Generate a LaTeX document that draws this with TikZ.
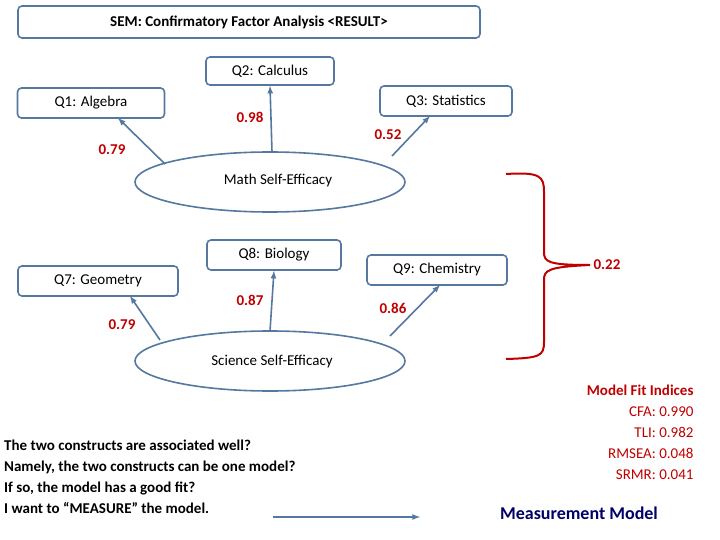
\documentclass[tikz,border=0pt]{standalone}
\usepackage{fontspec}
\setmainfont{Carlito}
\usetikzlibrary{shapes.geometric}
\definecolor{boxblue}{RGB}{84,120,160}
\definecolor{fitred}{RGB}{192,0,0}
\begin{document}
\begin{tikzpicture}[x=1pt,y=-1pt, font=\fontsize{15}{17}\selectfont,
	q/.style={draw=boxblue, line width=1.6pt, rounded corners=4pt, minimum height=28pt, inner sep=2pt},
	f/.style={ellipse, draw=boxblue, line width=1.6pt, minimum width=270pt, minimum height=60pt},
	w/.style={font=\fontsize{15}{17}\selectfont\bfseries, text=fitred},
	ar/.style={->, >=latex, draw=boxblue, line width=1.6pt}]
	\useasboundingbox (0,0) rectangle (720,540);
	\node[q, minimum width=462pt, minimum height=32pt] (T) at (249,22) {\bfseries SEM: Confirmatory Factor Analysis <RESULT>};
	\node[q, minimum width=128pt] (Q2) at (270,71) {Q2: Calculus};
	\node[q, minimum width=147pt, minimum height=30pt] (Q1) at (91,103) {Q1: Algebra};
	\node[q, minimum width=132pt, minimum height=30pt] (Q3) at (446,101) {Q3: Statistics};
	\node[f] (M) at (270,182) {};
	\node (M_label) at (278,181) {Math Self-Efficacy};
	\node[q, minimum width=134pt, minimum height=30pt] (Q8) at (274,255) {Q8: Biology};
	\node[q, minimum width=160pt, minimum height=30pt] (Q7) at (98,281) {Q7: Geometry};
	\node[q, minimum width=140pt, minimum height=30pt] (Q9) at (437,270) {Q9: Chemistry};
	\node[f] (S) at (270,361) {};
	\node (S_label) at (272,361) {Science Self-Efficacy};

	\coordinate (m1) at (165,164);
	\coordinate (m2) at (272,152);
	\coordinate (m3) at (392,156);
	\coordinate (s7) at (160,340);
	\coordinate (s8) at (270,331);
	\coordinate (s9) at (390,336);
	\coordinate (q1) at (118,118);
	\coordinate (q3) at (430,116);
	\coordinate (q7) at (130,296);
	\coordinate (q9) at (440,285);
	\draw[ar] (m1) -- (q1);
	\draw[ar] (m2) -- (Q2.south);
	\draw[ar] (m3) -- (q3);
	\draw[ar] (s7) -- (q7);
	\draw[ar] (s8) -- (Q8.south);
	\draw[ar] (s9) -- (q9);
	\node[w] (w1) at (112,150) {0.79};
	\node[w] (w2) at (250,117) {0.98};
	\node[w] (w3) at (388,135) {0.52};
	\node[w] (w7) at (122,325) {0.79};
	\node[w] (w8) at (250,300) {0.87};
	\node[w] (w9) at (393,308) {0.86};

	% correlation brace
	\node[w] (R) at (607,265) {0.22};
	\draw[fitred, line width=2pt] (506,174) .. controls (540,172) and (544,176) .. (544,192)
		-- (544,252) .. controls (544,262) and (548,265) .. (R.west)
		.. controls (548,267) and (544,270) .. (544,280)
		-- (544,342) .. controls (544,356) and (540,358) .. (506,359);

	\node[w, anchor=north east, align=right, font=\fontsize{15}{21}\selectfont] (fit) at (697,381)
		{\textbf{Model Fit Indices}\\ \mdseries\color{fitred}CFA: 0.990\\ \mdseries\color{fitred}TLI: 0.982\\ \mdseries\color{fitred}RMSEA: 0.048\\ \mdseries\color{fitred}SRMR: 0.041};
	\node[anchor=west, align=left, font=\fontsize{15}{21}\selectfont\bfseries, inner sep=0pt] (txt) at (4,477)
		{The two constructs are associated well?\\ Namely, the two constructs can be one model?\\ If so, the model has a good fit?\\ I want to “MEASURE” the model.};
	\node[font=\fontsize{18}{20}\selectfont\bfseries, text=blue!40!black] (MM) at (579,513) {Measurement Model};
	\coordinate (a0) at (273,517);
	\coordinate (a1) at (420,517);
	\draw[ar] (a0) -- (a1);
\end{tikzpicture}
\end{document}
